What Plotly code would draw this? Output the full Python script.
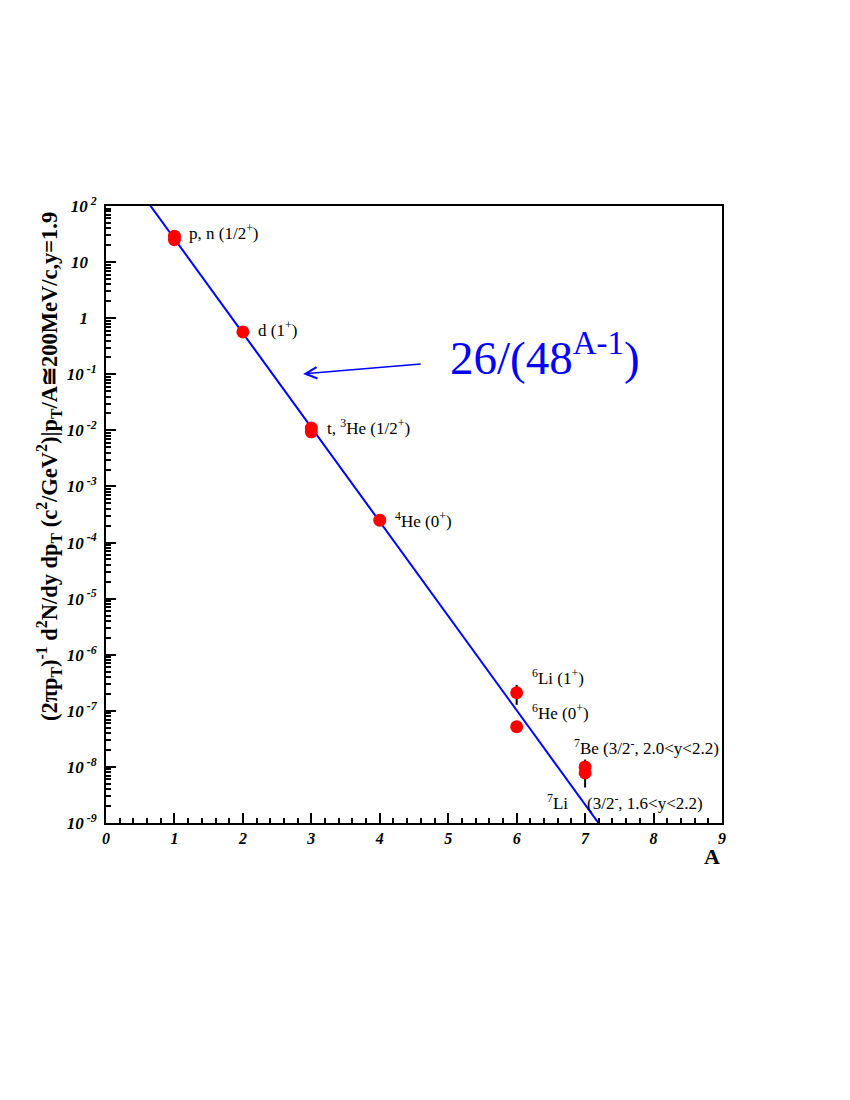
import plotly.graph_objects as go

# Mass number A and invariant yield at pT/A ~ 200 MeV/c, y = 1.9
A_VALUES = [1, 1, 2, 3, 3, 4, 6, 6, 7, 7]
YIELDS = [29, 25, 0.57, 0.011, 0.0094, 2.5e-4, 2.1e-7, 5.2e-8, 1.0e-8, 7.8e-9]
ERR_UP = [0, 0, 0, 0, 0, 0, 0.8e-7, 0, 0.35e-8, 0]
ERR_DOWN = [0, 0, 0, 0, 0.002, 0, 0.82e-7, 0, 0, 3.5e-9]

# fit 26/(48^(A-1))
FIT_NORM = 26
FIT_BASE = 48
FIT_A = [0.0, 9.0]

LABEL_TEXT = [
    "p, n (1/2<sup>+</sup>)",
    "d (1<sup>+</sup>)",
    "t, <sup>3</sup>He (1/2<sup>+</sup>)",
    "<sup>4</sup>He (0<sup>+</sup>)",
    "<sup>6</sup>Li (1<sup>+</sup>)",
    "<sup>6</sup>He (0<sup>+</sup>)",
    "<sup>7</sup>Be (3/2<sup>-</sup>, 2.0&lt;y&lt;2.2)",
    "<sup>7</sup>Li",
    "(3/2<sup>-</sup>, 1.6&lt;y&lt;2.2)",
]
LABEL_A = [1.18, 2.19, 3.2, 4.2, 6.2, 6.2, 6.81, 6.42, 7.0]
LABEL_LOGY = [1.537, -0.193, -1.94, -3.6, -6.396, -7.02, -7.64, -8.62, -8.62]

Y_EXPONENTS = [2, 1, 0, -1, -2, -3, -4, -5, -6, -7, -8, -9]
X_TICKS = [0, 1, 2, 3, 4, 5, 6, 7, 8, 9]

SERIF = "Liberation Serif, Times New Roman, serif"


def exp_label(e):
    if e == 0:
        return "1&nbsp;&nbsp;"
    if e == 1:
        return "10&nbsp;&nbsp;"
    return f"10<sup> {e}</sup>"


fit_y = [FIT_NORM / FIT_BASE ** (a - 1) for a in FIT_A]

fig = go.Figure()

fig.add_trace(go.Scatter(
    x=FIT_A, y=fit_y, mode="lines",
    line=dict(color="#0000ff", width=2),
    showlegend=False, hoverinfo="skip",
))

fig.add_trace(go.Scatter(
    x=A_VALUES, y=YIELDS, mode="markers",
    marker=dict(color="#ff0000", size=13, symbol="circle"),
    error_y=dict(type="data", symmetric=False, array=ERR_UP, arrayminus=ERR_DOWN,
                 color="black", thickness=2, width=0),
    showlegend=False,
))

for txt, xa, ly in zip(LABEL_TEXT, LABEL_A, LABEL_LOGY):
    fig.add_annotation(x=xa, y=ly, text=txt, showarrow=False, xanchor="left",
                       yanchor="middle", font=dict(family=SERIF, size=17, color="black"))

# fit formula with arrow
fig.add_annotation(x=5.0, y=-0.64, text="26/(48<sup>A-1</sup>)", showarrow=False,
                   xanchor="left", yanchor="middle",
                   font=dict(family=SERIF, size=47, color="#0000ff"))
fig.add_annotation(x=2.88, y=-0.995, ax=4.62, ay=-0.816, axref="x", ayref="y",
                   text="", showarrow=True, arrowhead=5, arrowsize=1.5,
                   arrowwidth=1.5, arrowcolor="#0000ff")

# axis titles
fig.add_annotation(x=1.0, y=-0.03, xref="x domain", yref="y domain", text="<b>A</b>",
                   showarrow=False, xanchor="right", yanchor="top",
                   font=dict(family=SERIF, size=22, color="black"))
fig.add_annotation(
    x=-0.093, y=0.578, xref="x domain", yref="y domain", textangle=-90,
    text="<b>(2πp<sub>T</sub>)<sup>-1</sup> d<sup>2</sup>N/dy dp<sub>T</sub> "
         "(c<sup>2</sup>/GeV<sup>2</sup>)|p<sub>T</sub>/A≅200MeV/c,y=1.9</b>",
    showarrow=False, xanchor="center", yanchor="middle",
    font=dict(family=SERIF, size=22.5, color="black"))

fig.update_xaxes(
    range=[0, 9], tickvals=X_TICKS, ticktext=[str(v) for v in X_TICKS],
    ticks="inside", ticklen=10, tickwidth=1.5, tickcolor="black",
    minor=dict(ticks="inside", ticklen=5, dtick=0.2, tickcolor="black", showgrid=False),
    showline=True, linecolor="black", linewidth=2, mirror=True,
    showgrid=False, zeroline=False, ticklabelstandoff=0,
    tickfont=dict(family=SERIF, size=16, color="black", weight="bold", style="italic"),
)
fig.update_yaxes(
    type="log", range=[-9, 2],
    tickvals=[10.0 ** e for e in Y_EXPONENTS], ticktext=[exp_label(e) for e in Y_EXPONENTS],
    ticks="inside", ticklen=10, tickwidth=1.5, tickcolor="black",
    minor=dict(ticks="inside", ticklen=5, dtick="D1", tickcolor="black", showgrid=False),
    showline=True, linecolor="black", linewidth=2, mirror=True,
    showgrid=False, zeroline=False, ticklabelstandoff=4,
    tickfont=dict(family=SERIF, size=17, color="black", weight="bold", style="italic"),
)

fig.update_layout(
    width=842, height=1092,
    margin=dict(l=98, r=128, t=198, b=277),
    paper_bgcolor="white", plot_bgcolor="white",
    showlegend=False,
)

fig.write_html("out.html")
